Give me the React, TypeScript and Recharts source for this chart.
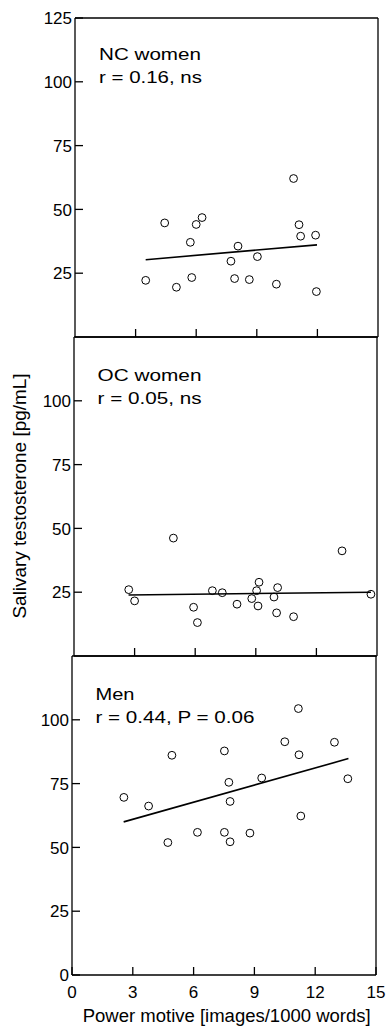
import React from "react";
import { ScatterChart, Scatter, XAxis, YAxis } from "recharts";

// NC women
const ncPower = [3.5, 4.44, 5.02, 5.71, 5.78, 6.0, 6.29, 7.72, 7.9, 8.07, 8.63, 9.03, 9.97, 10.82, 11.09, 11.17, 11.91, 11.95];
const ncTesto = [22.2, 44.7, 19.5, 37.1, 23.3, 44.1, 46.8, 29.7, 22.9, 35.6, 22.5, 31.5, 20.7, 62.1, 44.0, 39.5, 39.9, 17.8];
const ncFitX = [3.5, 11.98];
const ncFitY = [30.3, 36.1];

// OC women
const ocPower = [2.71, 3.0, 4.92, 5.92, 6.11, 6.85, 7.34, 8.07, 8.8, 9.04, 9.16, 9.11, 9.9, 10.08, 10.03, 10.87, 13.27, 14.7];
const ocTesto = [26.0, 21.6, 46.2, 19.1, 13.1, 25.6, 24.8, 20.3, 22.5, 25.6, 28.9, 19.6, 23.1, 26.8, 16.9, 15.4, 41.2, 24.2];
const ocFitX = [2.7, 14.7];
const ocFitY = [23.9, 25.0];

// Men
const menPower = [2.56, 3.78, 4.73, 4.93, 6.19, 7.52, 7.52, 7.74, 7.8, 7.8, 8.78, 9.36, 10.5, 11.17, 11.2, 11.29, 12.95, 13.61];
const menTesto = [69.6, 66.2, 51.9, 86.1, 55.9, 87.8, 55.9, 75.5, 68.0, 52.2, 55.6, 77.2, 91.4, 104.4, 86.3, 62.3, 91.2, 76.9];
const menFitX = [2.55, 13.64];
const menFitY = [60.0, 84.8];

const xTicksInner = [3, 6, 9, 12];
const xTicksAll = [0, 3, 6, 9, 12, 15];
const yTicksRight = [25, 50, 75, 100];

const zip = (xs: number[], ys: number[]) => xs.map((x, i) => ({ x, y: ys[i] }));

const FONT = "'Liberation Sans', Arial, sans-serif";
const TICK = 8; // inward tick length
const LEFT_GAP = 3;
const BOTTOM_GAP = 11;

// ticks point into the plot, so every tick draws its own mark
const LeftTick = (p: any) => (
  <g>
    <line x1={p.x + LEFT_GAP} x2={p.x + LEFT_GAP + TICK} y1={p.y} y2={p.y} stroke="#000" strokeWidth={1.3} />
    <text x={p.x} y={p.y} textAnchor="end" dy="0.36em" fontSize={17} fontFamily={FONT} fill="#000">
      {p.payload.value}
    </text>
  </g>
);
const RightTick = (p: any) => (
  <line x1={p.x} x2={p.x - TICK} y1={p.y} y2={p.y} stroke="#000" strokeWidth={1.3} />
);
const TopTick = (p: any) => (
  <line x1={p.x} x2={p.x} y1={p.y} y2={p.y + TICK} stroke="#000" strokeWidth={1.3} />
);
const InnerBottomTick = (p: any) => (
  <line x1={p.x} x2={p.x} y1={p.y} y2={p.y - TICK} stroke="#000" strokeWidth={1.3} />
);
const BottomTick = (p: any) => (
  <g>
    <line x1={p.x} x2={p.x} y1={p.y - BOTTOM_GAP} y2={p.y - BOTTOM_GAP - TICK} stroke="#000" strokeWidth={1.3} />
    <text x={p.x} y={p.y} textAnchor="middle" dy="0.71em" fontSize={17} fontFamily={FONT} fill="#000">
      {p.payload.value}
    </text>
  </g>
);

const Ring = (p: any) => <circle cx={p.cx} cy={p.cy} r={3.9} fill="none" stroke="#000" strokeWidth={1} />;
const NoDot = () => <g />;

type PanelProps = {
  top: number;
  height: number;
  margin: { top: number; right: number; bottom: number; left: number };
  leftW: number;
  rightW: number;
  yTicks: number[];
  points: { x: number; y: number }[];
  fit: { x: number; y: number }[];
  lines: { text: string; y: number; len: number }[];
  textX: number;
  last?: boolean;
  children?: React.ReactNode;
};

function Panel({ top, height, margin, leftW, rightW, yTicks, points, fit, lines, textX, last, children }: PanelProps) {
  return (
    <div style={{ position: "absolute", left: 0, top }}>
      <ScatterChart width={387} height={height} margin={margin}>
        <XAxis
          type="number"
          dataKey="x"
          domain={[0, 15]}
          ticks={last ? xTicksAll : xTicksInner}
          height={last ? 52 : 1}
          tickSize={0}
          tickLine={false}
          tickMargin={last ? BOTTOM_GAP : 0}
          tick={last ? BottomTick : InnerBottomTick}
          stroke="#000"
          strokeWidth={1.3}
          interval={0}
        />
        <XAxis
          xAxisId="top"
          orientation="top"
          type="number"
          domain={[0, 15]}
          ticks={xTicksInner}
          height={1}
          tickSize={0}
          tickLine={false}
          tickMargin={0}
          tick={TopTick}
          stroke="#000"
          strokeWidth={1.3}
          interval={0}
        />
        <YAxis
          type="number"
          dataKey="y"
          domain={[0, 125]}
          ticks={yTicks}
          width={leftW}
          tickSize={0}
          tickLine={false}
          tickMargin={LEFT_GAP}
          tick={LeftTick}
          stroke="#000"
          strokeWidth={1.3}
          interval={0}
        />
        <YAxis
          yAxisId="right"
          orientation="right"
          type="number"
          domain={[0, 125]}
          ticks={yTicksRight}
          width={rightW}
          tickSize={0}
          tickLine={false}
          tickMargin={0}
          tick={RightTick}
          stroke="#000"
          strokeWidth={1.3}
          interval={0}
        />
        <Scatter data={points} shape={Ring} isAnimationActive={false} />
        <Scatter
          data={fit}
          shape={NoDot}
          line={{ stroke: "#000", strokeWidth: 1.6 }}
          isAnimationActive={false}
        />
        {lines.map((l) => (
          <text
            key={l.text}
            x={textX}
            y={l.y}
            fontSize={17}
            fontFamily={FONT}
            fill="#000"
            textLength={l.len}
            lengthAdjust="spacingAndGlyphs"
          >
            {l.text}
          </text>
        ))}
        {children}
      </ScatterChart>
    </div>
  );
}

export default function App() {
  return (
    <div style={{ position: "absolute", left: 0, top: 0, width: 387, height: 1027, background: "#fff", fontFamily: FONT }}>
      <Panel
        top={0}
        height={340}
        margin={{ top: 17, right: 0, bottom: 2, left: 0 }}
        leftW={75}
        rightW={9}
        yTicks={[25, 50, 75, 100, 125]}
        points={zip(ncPower, ncTesto)}
        fit={zip(ncFitX, ncFitY)}
        textX={99}
        lines={[
          { text: "NC women", y: 60, len: 102 },
          { text: "r = 0.16, ns", y: 83, len: 103 },
        ]}
      />
      <Panel
        top={334}
        height={325}
        margin={{ top: 2, right: 0, bottom: 2, left: 0 }}
        leftW={74}
        rightW={10}
        yTicks={[25, 50, 75, 100]}
        points={zip(ocPower, ocTesto)}
        fit={zip(ocFitX, ocFitY)}
        textX={97.5}
        lines={[
          { text: "OC women", y: 47, len: 104 },
          { text: "r = 0.05, ns", y: 70, len: 104 },
        ]}
      >
        <text
          x={20}
          y={162}
          transform="rotate(-90, 20, 162)"
          textAnchor="middle"
          dominantBaseline="central"
          fontSize={18}
          fontFamily={FONT}
          fill="#000"
          textLength={245}
          lengthAdjust="spacingAndGlyphs"
        >
          Salivary testosterone [pg/mL]
        </text>
      </Panel>
      <Panel
        top={653}
        height={374}
        margin={{ top: 2, right: 0, bottom: 0, left: 0 }}
        leftW={72}
        rightW={11}
        yTicks={[0, 25, 50, 75, 100]}
        points={zip(menPower, menTesto)}
        fit={zip(menFitX, menFitY)}
        textX={95.5}
        last
        lines={[
          { text: "Men", y: 47, len: 39 },
          { text: "r = 0.44, P = 0.06", y: 70, len: 159 },
        ]}
      >
        <text
          x={82.7}
          y={368.5}
          fontSize={18}
          fontFamily={FONT}
          fill="#000"
          textLength={288}
          lengthAdjust="spacingAndGlyphs"
        >
          Power motive [images/1000 words]
        </text>
      </Panel>
    </div>
  );
}
